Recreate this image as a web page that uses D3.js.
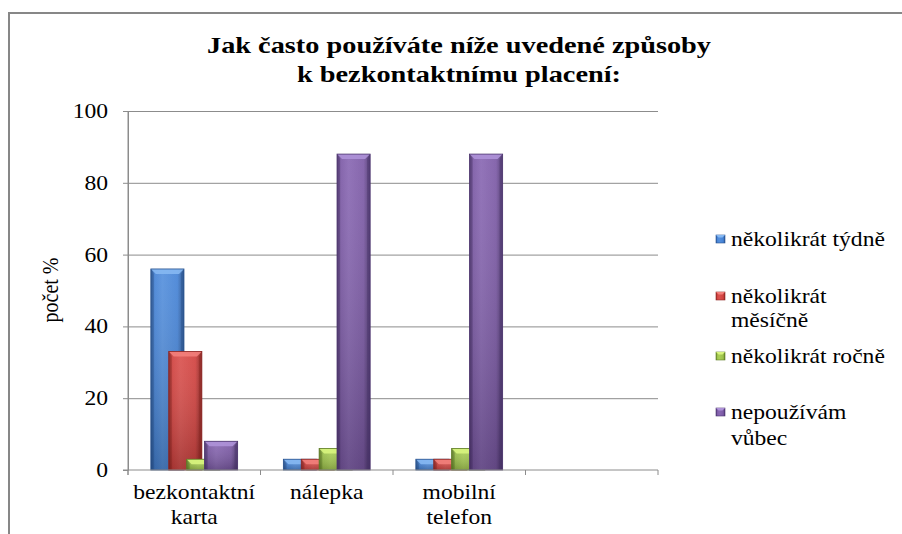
<!DOCTYPE html>
<html>
<head>
<meta charset="utf-8">
<script src="https://cdn.jsdelivr.net/npm/d3@7/dist/d3.min.js"></script>
<style>
  html, body { margin: 0; padding: 0; background: #fff; }
  svg { display: block; }
  svg text { font-family: "Liberation Serif", "Times New Roman", Times, serif !important; fill: #000; }
</style>
</head>
<body>
<svg id="chart" width="902" height="534" font-family="Liberation Serif, serif"></svg>
<script>
// ---- data ----
const categories = ["bezkontaktní karta", "nálepka", "mobilní telefon", ""];
const series = ["několikrát týdně", "několikrát měsíčně", "několikrát ročně", "nepoužívám vůbec"];
const valuesTydne   = [56, 3, 3];
const valuesMesicne = [33, 3, 3];
const valuesRocne   = [3, 6, 6];
const valuesNikdy   = [8, 88, 88];
const yTicks = [0, 20, 40, 60, 80, 100];
const titleLines = ["Jak často používáte níže uvedené způsoby", "k bezkontaktnímu placení:"];
const yLabel = "počet %";
const legendLines = [["několikrát týdně"], ["několikrát", "měsíčně"], ["několikrát ročně"], ["nepoužívám", "vůbec"]];
const xLabelLines = [["bezkontaktní", "karta"], ["nálepka"], ["mobilní", "telefon"], []];

const seriesValues = [valuesTydne, valuesMesicne, valuesRocne, valuesNikdy];
const palette = [
  { base: "#4583d6", light: "#86b8f2", dark: "#28528e" },
  { base: "#d2423f", light: "#f27f7b", dark: "#8c2522" },
  { base: "#9cc24a", light: "#d8f47e", dark: "#5e7c26" },
  { base: "#7c5aa6", light: "#ae92d8", dark: "#4c356e" }
];

const FONT = '"Liberation Serif", "Times New Roman", serif';
const K = 1.18; // horizontal text stretch
const svg = d3.select("#chart");
const defs = svg.append("defs");

function stretch(sel, k) {
  sel.each(function () {
    const t = d3.select(this);
    const ax = +t.attr("x") || 0;
    const prev = t.attr("transform") || "";
    t.attr("transform", prev + ` translate(${ax},0) scale(${k},1) translate(${-ax},0)`);
  });
}

// frame
svg.append("rect").attr("x", 9).attr("y", 13).attr("width", 1000).attr("height", 1000)
  .attr("fill", "none").attr("stroke", "#878787").attr("stroke-width", 2);

const plot = { left: 128, right: 658, top: 111, bottom: 470 };
const x = d3.scaleBand().domain(categories).range([plot.left, plot.right]).paddingInner(0).paddingOuter(0);
const y = d3.scaleLinear().domain([0, 100]).range([plot.bottom, plot.top]);

// gradients
palette.forEach((p, i) => {
  const g = defs.append("linearGradient").attr("id", "h" + i).attr("x1", 0).attr("x2", 1).attr("y1", 0).attr("y2", 0);
  g.append("stop").attr("offset", "0%").attr("stop-color", p.dark);
  g.append("stop").attr("offset", "12%").attr("stop-color", p.base);
  g.append("stop").attr("offset", "35%").attr("stop-color", d3.interpolateRgb(p.base, p.light)(0.25));
  g.append("stop").attr("offset", "80%").attr("stop-color", p.base);
  g.append("stop").attr("offset", "100%").attr("stop-color", p.dark);
});
const vg = defs.append("linearGradient").attr("id", "vshade").attr("x1", 0).attr("x2", 0).attr("y1", 0).attr("y2", 1);
vg.append("stop").attr("offset", "0%").attr("stop-color", "#fff").attr("stop-opacity", 0.08);
vg.append("stop").attr("offset", "100%").attr("stop-color", "#000").attr("stop-opacity", 0.22);

// gridlines
svg.append("g").attr("transform", `translate(${plot.left},0)`)
  .call(d3.axisLeft(y).tickValues(yTicks.filter(v => v > 0)).tickSize(-(plot.right - plot.left)).tickFormat(""))
  .call(g => g.select(".domain").remove())
  .call(g => g.selectAll("line").attr("stroke", "#8c8c8c").attr("stroke-width", 1));

// y axis
const yAxisG = svg.append("g").attr("transform", `translate(${plot.left},0)`)
  .call(d3.axisLeft(y).tickValues(yTicks).tickSize(5).tickPadding(15).tickSizeOuter(0))
  .attr("font-family", null).attr("font-size", null)
  .call(g => g.select(".domain").attr("stroke", "#8c8c8c"))
  .call(g => g.selectAll("line").attr("stroke", "#8c8c8c"))
  .call(g => g.selectAll("text").style("font-family", FONT).style("font-size", "20px"));
stretch(yAxisG.selectAll("text"), K);

// bars
function drawBar(g, bx, by, bw, bh, i) {
  const p = palette[i];
  g.append("rect").attr("x", bx).attr("y", by).attr("width", bw).attr("height", bh)
    .attr("fill", `url(#h${i})`);
  g.append("rect").attr("x", bx).attr("y", by).attr("width", bw).attr("height", bh)
    .attr("fill", "url(#vshade)");
  const b = Math.min(5, bh / 2, bw / 4);
  g.append("polygon")
    .attr("points", [[bx, by], [bx + bw, by], [bx + bw - b, by + b], [bx + b, by + b]].map(d => d.join(",")).join(" "))
    .attr("fill", p.light).attr("opacity", 0.9);
  g.append("polygon")
    .attr("points", [[bx, by], [bx + b * 0.6, by + b], [bx + b * 0.6, by + bh], [bx, by + bh]].map(d => d.join(",")).join(" "))
    .attr("fill", p.dark).attr("opacity", 0.35);
  g.append("polygon")
    .attr("points", [[bx + bw, by], [bx + bw - b * 0.6, by + b], [bx + bw - b * 0.6, by + bh], [bx + bw, by + bh]].map(d => d.join(",")).join(" "))
    .attr("fill", p.dark).attr("opacity", 0.5);
  g.append("rect").attr("x", bx).attr("y", by).attr("width", bw).attr("height", bh)
    .attr("fill", "none").attr("stroke", p.dark).attr("stroke-width", 0.8);
}

const band = x.bandwidth();
const barW = band * 0.25;
const step = band * 0.135;
const barsG = svg.append("g");
seriesValues.forEach((vals, i) => {
  const sg = barsG.append("g");
  vals.forEach((v, ci) => {
    const cx = x(categories[ci]) + band / 2;
    const bx = cx + (i - 1.5) * step - barW / 2;
    drawBar(sg, bx, y(v), barW, y(0) - y(v), i);
  });
});

// x axis line & boundary ticks
const xg = svg.append("g");
xg.append("line").attr("x1", plot.left - 5).attr("x2", plot.right).attr("y1", y(0)).attr("y2", y(0))
  .attr("stroke", "#8c8c8c");
const bounds = categories.map(c => x(c)).concat([plot.right]);
xg.selectAll(".bt").data(bounds).join("line")
  .attr("x1", d => d).attr("x2", d => d).attr("y1", y(0)).attr("y2", y(0) + 5)
  .attr("stroke", "#8c8c8c");
svg.append("line").attr("x1", plot.left).attr("x2", plot.left).attr("y1", plot.top).attr("y2", plot.bottom + 5)
  .attr("stroke", "#8c8c8c");

// x labels
const xl = svg.append("g");
categories.forEach((c, ci) => {
  const cx = x(c) + band / 2;
  xLabelLines[ci].forEach((ln, li) => {
    xl.append("text").attr("x", cx).attr("y", 499 + li * 25).attr("text-anchor", "middle")
      .style("font-family", FONT).style("font-size", "20px").text(ln);
  });
});
stretch(xl.selectAll("text"), K);

// y label
svg.append("text")
  .attr("transform", `translate(58,290) scale(${K},1) rotate(-90)`)
  .attr("text-anchor", "middle").style("font-family", FONT).style("font-size", "20px").text(yLabel);

// title
const tg = svg.append("g");
titleLines.forEach((t, i) => {
  tg.append("text").attr("x", 459).attr("y", 53 + i * 29).attr("text-anchor", "middle")
    .style("font-family", FONT).style("font-size", "24px").style("font-weight", "bold").text(t);
});
stretch(tg.selectAll("text"), K);

// legend
const legendY = [[246], [303, 327], [363], [419, 445]];
const lg = svg.append("g");
series.forEach((s, i) => {
  const first = legendY[i][0];
  drawBarLegend(lg, 716, first - 11, 9, 8, i);
  legendLines[i].forEach((ln, li) => {
    lg.append("text").attr("x", 731).attr("y", legendY[i][li])
      .style("font-family", FONT).style("font-size", "20px").text(ln)
      .attr("class", "lt");
  });
});
stretch(lg.selectAll("text.lt"), K);

function drawBarLegend(g, bx, by, bw, bh, i) {
  const p = palette[i];
  g.append("rect").attr("x", bx).attr("y", by).attr("width", bw).attr("height", bh)
    .attr("fill", `url(#h${i})`).attr("stroke", p.dark).attr("stroke-width", 0.6);
  g.append("polygon")
    .attr("points", [[bx, by], [bx + bw, by], [bx + bw - 2.5, by + 2.5], [bx + 2.5, by + 2.5]].map(d => d.join(",")).join(" "))
    .attr("fill", p.light);
}
</script>
</body>
</html>
